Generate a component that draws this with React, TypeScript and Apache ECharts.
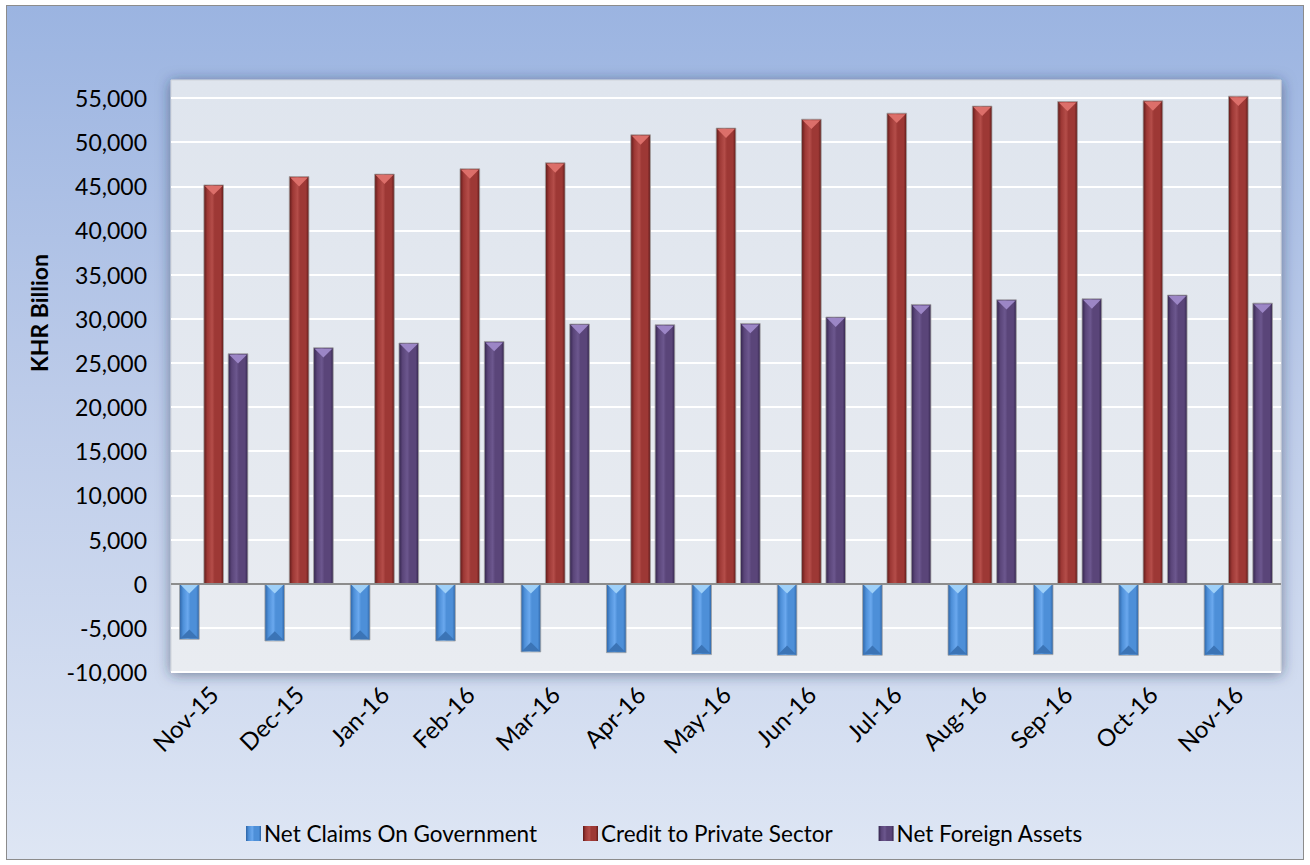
import React, { useEffect, useRef } from "react";
import * as echarts from "echarts";

const months = ["Nov-15", "Dec-15", "Jan-16", "Feb-16", "Mar-16", "Apr-16", "May-16", "Jun-16", "Jul-16", "Aug-16", "Sep-16", "Oct-16", "Nov-16"];
const netClaims = [-6300, -6490, -6370, -6490, -7730, -7810, -8030, -8110, -8110, -8110, -8030, -8110, -8110];
const credit = [45160, 46100, 46380, 46980, 47660, 50830, 51590, 52600, 53280, 54080, 54600, 54680, 55210];
const nfa = [26040, 26720, 27250, 27430, 29400, 29320, 29470, 30190, 31620, 32150, 32260, 32680, 31770];
const seriesNames = ["Net Claims On Government", "Credit to Private Sector", "Net Foreign Assets"];
const yTicks = { min: -10000, max: 55000, interval: 5000 };

const palettes = [
  { dark: "#2d64a6", mid: "#4d8fd8", light: "#6aa8ee", tri: "#9fd0f8", bottom: "#3b74b6" },
  { dark: "#5e1a19", mid: "#9d3835", light: "#b44d49", tri: "#dc6f6a", bottom: null },
  { dark: "#33254c", mid: "#5a4579", light: "#6c578e", tri: "#9c86c6", bottom: null },
];

const grad = (p: any) => ({
  type: "linear", x: 0, y: 0, x2: 1, y2: 0,
  colorStops: [
    { offset: 0, color: p.dark },
    { offset: 0.18, color: p.mid },
    { offset: 0.42, color: p.light },
    { offset: 0.55, color: p.mid },
    { offset: 0.85, color: p.mid },
    { offset: 1, color: p.dark },
  ],
});

function makeRender(k: number) {
  const p = palettes[k];
  return (params: any, api: any) => {
    const i = api.value(0);
    const v = api.value(1);
    const p0 = api.coord([i, 0]);
    const p1 = api.coord([i, v]);
    const band = api.size([1, 0])[0];
    const bw = band * 0.23;
    const gap = band * 0.055;
    const cx = p0[0] + (k - 1) * (bw + gap);
    const x = cx - bw / 2;
    const yTop = Math.min(p0[1], p1[1]);
    const h = Math.abs(p1[1] - p0[1]);
    const tri = bw * 0.5;
    const children: any[] = [
      { type: "rect", shape: { x, y: yTop, width: bw, height: h }, style: { fill: grad(p), stroke: "#a3a3a3", lineWidth: 0.8 } },
      { type: "polygon", shape: { points: [[x + 1, yTop + 1], [x + bw - 1, yTop + 1], [cx, yTop + tri]] }, style: { fill: p.tri } },
    ];
    if (p.bottom) {
      children.push({ type: "polygon", shape: { points: [[x + 1, yTop + h - 1], [x + bw - 1, yTop + h - 1], [cx, yTop + h - tri]] }, style: { fill: p.bottom } });
    }
    return { type: "group", children };
  };
}

export default function App() {
  const ref = useRef<HTMLDivElement>(null);
  useEffect(() => {
    document.body.style.margin = "0";
    if (!ref.current) return;
    const chart = echarts.init(ref.current, null, { renderer: "svg" });
    const datasets = [netClaims, credit, nfa];
    const font = "Lato, 'Open Sans', sans-serif";
    chart.setOption({
      animation: false,
      backgroundColor: "transparent",
      textStyle: { fontFamily: font },
      grid: { left: 171, right: 29, top: 98, bottom: 193, containLabel: false },
      graphic: [
        {
          type: "rect", z: -10, silent: true,
          shape: { x: 171, y: 80, width: 1110, height: 592 },
          style: {
            fill: { type: "linear", x: 0, y: 0, x2: 0, y2: 1, colorStops: [{ offset: 0, color: "#dfe5ee" }, { offset: 1, color: "#e9ecf1" }] },
            stroke: "#cfd3da", lineWidth: 1,
            shadowBlur: 14, shadowColor: "rgba(30,45,80,0.55)", shadowOffsetX: 0, shadowOffsetY: 2,
          },
        },
        {
          type: "text", left: 27, top: 318 - 64, rotation: Math.PI / 2, silent: true,
          style: { text: "KHR Billion", font: `bold 23px ${font}`, fill: "#000" },
        },
      ],
      legend: {
        data: seriesNames,
        left: 241, top: 817,
        itemWidth: 15, itemHeight: 15, itemGap: 46,
        icon: "rect",
        textStyle: { fontSize: 22.5, color: "#000", fontFamily: font, padding: [0, 0, 0, -2] },
      },
      xAxis: {
        type: "category",
        data: months,
        axisLine: { show: false, onZero: false },
        axisTick: { show: false },
        axisLabel: { rotate: 45, fontSize: 24, color: "#000", margin: 18, fontFamily: font },
        splitLine: { show: false },
      },
      yAxis: {
        type: "value",
        min: yTicks.min, max: yTicks.max, interval: yTicks.interval,
        axisLine: { show: false },
        axisTick: { show: false },
        axisLabel: { fontSize: 23, color: "#000", margin: 24, fontFamily: font, formatter: (v: number) => v.toLocaleString("en-US") },
        splitLine: { lineStyle: { color: "#ffffff", width: 2 } },
      },
      series: datasets.map((d, k) => ({
        name: seriesNames[k],
        type: "custom",
        renderItem: makeRender(k),
        encode: { x: 0, y: 1 },
        itemStyle: { color: grad(palettes[k]) },
        data: d.map((v, i) => [i, v]),
        markLine: k === 0 ? {
          silent: true, symbol: "none", label: { show: false },
          lineStyle: { color: "#8c8c8c", width: 2, type: "solid" },
          data: [{ yAxis: 0 }],
        } : undefined,
      })),
    });
    return () => chart.dispose();
  }, []);
  return (
    <div style={{ position: "relative", width: 1310, height: 865, background: "#fff" }}>
      <div style={{ position: "absolute", left: 6, top: 5, width: 1296, height: 853, border: "1px solid #8c8c8c", background: "linear-gradient(to bottom, #9bb4e1 0%, #bccbe9 45%, #dee6f4 100%)" }} />
      <div ref={ref} style={{ position: "absolute", left: 0, top: 0, width: 1310, height: 865 }} />
    </div>
  );
}
